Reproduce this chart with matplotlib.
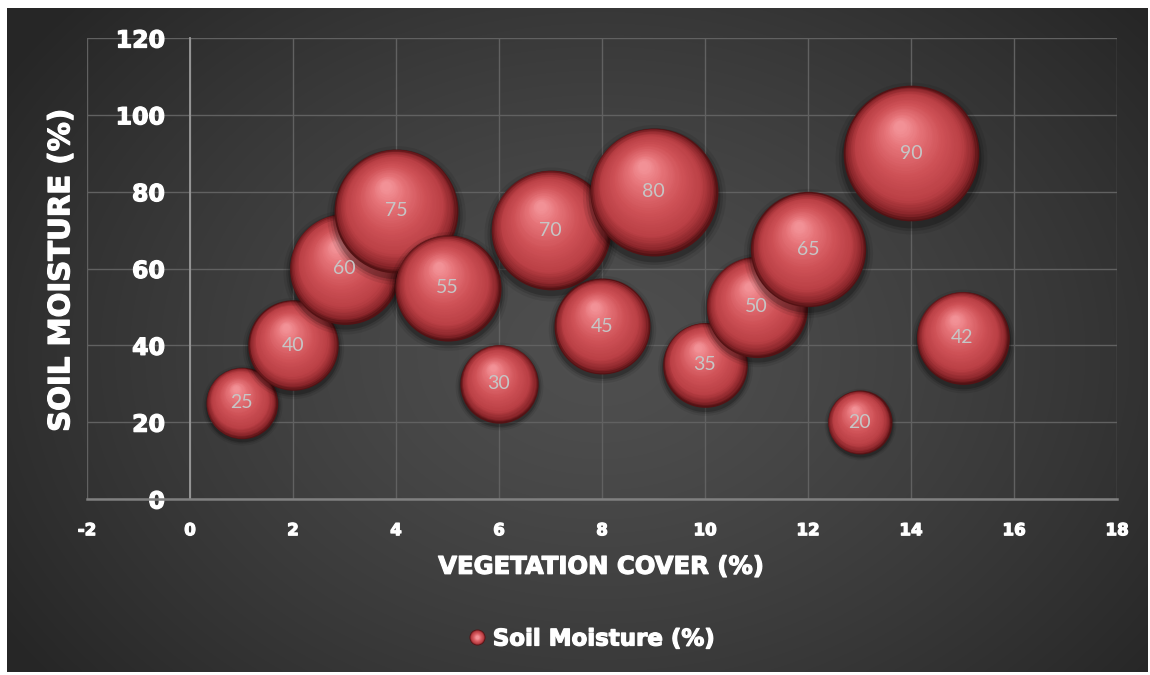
import numpy as np
import matplotlib
matplotlib.use("Agg")
import matplotlib.pyplot as plt
import matplotlib.transforms as mtransforms
import matplotlib.patheffects as pe
from matplotlib.colors import LinearSegmentedColormap
from matplotlib.lines import Line2D
from matplotlib.legend_handler import HandlerTuple

vegetation_cover = [1, 2, 3, 4, 5, 6, 7, 8, 9, 10, 11, 12, 13, 14, 15]
soil_moisture = [25, 40, 60, 75, 55, 30, 70, 45, 80, 35, 50, 65, 20, 90, 42]
bubble_size = [25, 40, 60, 75, 55, 30, 70, 45, 80, 35, 50, 65, 20, 90, 42]
series_name = "Soil Moisture (%)"
x_title = "VEGETATION COVER (%)"
y_title = "SOIL MOISTURE (%)"

W, H, DPI = 1150, 675, 100
SIZE_SCALE = 106.0   # points^2 per unit of bubble size
N_LAYERS = 40
HILITE = (-0.16, 0.40)  # focal point of the shading, fraction of radius

plt.rcParams["axes.unicode_minus"] = False

sphere_cmap = LinearSegmentedColormap.from_list("sphere", [
    (0.00, (0.33, 0.07, 0.08)),
    (0.07, (0.55, 0.15, 0.17)),
    (0.22, (0.73, 0.25, 0.27)),
    (0.50, (0.81, 0.32, 0.34)),
    (0.80, (0.90, 0.45, 0.47)),
    (1.00, (0.95, 0.57, 0.59)),
])

heavy = dict(family="DejaVu Sans", weight="bold", color="white")
stroke = [pe.withStroke(linewidth=0.9, foreground="white")]


def offset(ax, dx, dy):
    # shift in points on top of data coords
    return ax.transData + mtransforms.ScaledTranslation(dx / 72, dy / 72, ax.figure.dpi_scale_trans)


def sphere(ax, x, y, s, z):
    R = np.sqrt(s) / 2
    for grow, a in [(1.12, 0.08), (1.07, 0.12), (1.03, 0.2)]:
        ax.scatter([x], [y], s=s * grow ** 2, color="black", alpha=a, lw=0,
                   transform=offset(ax, 0, -0.07 * R), zorder=z)
    for i in range(N_LAYERS):
        t = i / (N_LAYERS - 1)
        r = R * (1 - 0.92 * t)
        ax.scatter([x], [y], s=(2 * r) ** 2, color=sphere_cmap(t), lw=0,
                   transform=offset(ax, HILITE[0] * R * t, HILITE[1] * R * t),
                   zorder=z + 0.01 + 0.001 * i)


fig = plt.figure(figsize=(W / DPI, H / DPI), dpi=DPI, facecolor="white")

# dark panel with a soft radial glow
bg = fig.add_axes([7 / W, 3 / H, 1141 / W, 664 / H])
gy, gx = np.mgrid[0:1:300j, 0:1:500j]
d = np.sqrt(((gx - 0.52) / 0.62) ** 2 + ((gy - 0.52) / 0.8) ** 2)
shade = 0.31 - 0.16 * np.clip(d, 0, 1) ** 1.3
bg.imshow(np.dstack([shade] * 3), extent=[0, 1, 0, 1], aspect="auto", interpolation="bicubic")
bg.set_axis_off()

ax = fig.add_axes([87 / W, 176 / H, 1030 / W, 461 / H], facecolor="none")
ax.set_xlim(-2, 18)
ax.set_ylim(0, 120)
ax.set_xticks(np.arange(-2, 19, 2))
ax.set_yticks(np.arange(0, 121, 20))
ax.grid(True, color="#616161", lw=1)
ax.set_axisbelow(True)
for side in ["top", "right"]:
    ax.spines[side].set_visible(False)
ax.spines["left"].set_position(("data", 0))
ax.spines["left"].set_color("#9a9a9a")
ax.spines["left"].set_linewidth(1.3)
ax.spines["bottom"].set_color("#808080")
ax.spines["bottom"].set_linewidth(1.8)
ax.tick_params(length=0, colors="white")
ax.tick_params(axis="y", pad=18)
ax.tick_params(axis="x", pad=16)
for lab in ax.get_yticklabels():
    lab.set(fontsize=17, path_effects=stroke, **heavy)
for lab in ax.get_xticklabels():
    lab.set(fontsize=12, path_effects=stroke, **heavy)

for k, (x, y, s) in enumerate(zip(vegetation_cover, soil_moisture, bubble_size)):
    sphere(ax, x, y, s * SIZE_SCALE, 10 + k)
    ax.text(x, y, str(s), ha="center", va="center", fontsize=14, family="Lato",
            color="#c6c6c6", zorder=100)

ax.set_xlabel(x_title, fontsize=17.5, va="center", path_effects=stroke, **heavy)
ax.xaxis.set_label_coords(0.499, -0.147)
ax.set_ylabel(y_title, fontsize=21, va="center", ha="center", path_effects=stroke, **heavy)
ax.yaxis.set_label_coords(-0.025, 0.496)

# legend marker built from concentric dots
dots = tuple(
    Line2D([], [], ls="", marker="o", markersize=11.5 * (1 - 0.75 * t), mew=0,
           color=sphere_cmap(t))
    for t in np.linspace(0, 1, 8)
)
leg = ax.legend([dots], [series_name], handler_map={tuple: HandlerTuple(ndivide=1)},
                loc="center", bbox_to_anchor=(591 / W, 1 - 639 / H),
                bbox_transform=fig.transFigure, frameon=False,
                handlelength=0.8, handletextpad=0.3,
                prop=dict(family="DejaVu Sans", weight="bold", size=16.5))
for txt in leg.get_texts():
    txt.set_color("white")
    txt.set_path_effects(stroke)

fig.savefig("out.png", dpi=DPI, facecolor="white")
